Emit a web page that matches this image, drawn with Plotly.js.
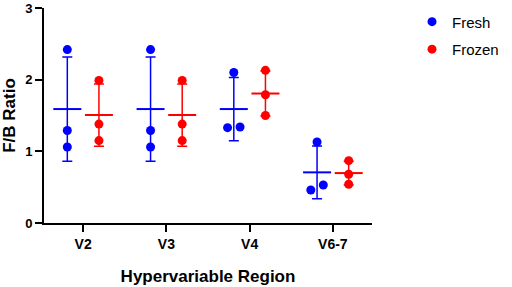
<!DOCTYPE html>
<html>
<head>
<meta charset="utf-8">
<script src="https://cdn.plot.ly/plotly-3.0.1.min.js"></script>
<style>html,body{margin:0;padding:0;background:#fff;}#chart{width:512px;height:287px;}</style>
</head>
<body>
<div id="chart"></div>
<script>
// ---- data ----
const categories = ['V2', 'V3', 'V4', 'V6-7'];
const seriesNames = ['Fresh', 'Frozen'];
const freshValues = [
  [2.42, 1.29, 1.06],
  [2.42, 1.29, 1.06],
  [2.10, 1.33, 1.34],
  [1.13, 0.46, 0.53]
];
const frozenValues = [
  [1.99, 1.38, 1.15],
  [1.99, 1.38, 1.15],
  [2.13, 1.79, 1.50],
  [0.87, 0.68, 0.54]
];
const yTicks = [0, 1, 2, 3];

// ---- styles ----
const colors = ['#0000FF', '#FF0000'];
const groupOffset = [-0.19, 0.19];
const jitter = 0.075;
const FONT = 'Liberation Sans, Arial, sans-serif';

function mean(a) { return a.reduce((s, v) => s + v, 0) / a.length; }
function sd(a) {
  const m = mean(a);
  return Math.sqrt(a.reduce((s, v) => s + (v - m) * (v - m), 0) / (a.length - 1));
}
// horizontal spread for near-overlapping points (like a scatter dot plot)
function spread(vals) {
  const off = vals.map(() => 0);
  const idx = vals.map((v, i) => i).sort((a, b) => vals[a] - vals[b]);
  for (let k = 0; k < idx.length - 1; k++) {
    const i = idx[k], j = idx[k + 1];
    if (Math.abs(vals[j] - vals[i]) < 0.1 && off[i] === 0 && off[j] === 0) {
      off[i] = -jitter; off[j] = jitter;
    }
  }
  return off;
}

const allSeries = [freshValues, frozenValues];
const traces = [];
allSeries.forEach((ser, s) => {
  const mx = [], my = [], msd = [];
  ser.forEach((vals, c) => {
    mx.push(c + groupOffset[s]); my.push(mean(vals)); msd.push(sd(vals));
  });
  traces.push({
    type: 'scatter', mode: 'markers', x: mx, y: my,
    showlegend: false, hoverinfo: 'skip', legendgroup: seriesNames[s],
    marker: { symbol: 'line-ew', size: 20, color: colors[s], line: { color: colors[s], width: 2 } },
    error_y: { type: 'data', array: msd, visible: true, width: 5, thickness: 1.5, color: colors[s] }
  });
});
allSeries.forEach((ser, s) => {
  const px = [], py = [];
  ser.forEach((vals, c) => {
    const off = spread(vals);
    vals.forEach((v, i) => { px.push(c + groupOffset[s] + off[i]); py.push(v); });
  });
  traces.push({
    type: 'scatter', mode: 'markers', x: px, y: py, name: seriesNames[s],
    legendgroup: seriesNames[s],
    marker: { size: 9, color: colors[s] }
  });
});

const layout = {
  width: 512, height: 287,
  margin: { l: 44, r: 140, t: 8, b: 64, autoexpand: false },
  paper_bgcolor: '#fff', plot_bgcolor: '#fff',
  font: { family: FONT, color: '#000' },
  showlegend: true,
  legend: {
    x: 1.122, xanchor: 'left', y: 1.012, yanchor: 'top',
    font: { family: FONT, size: 15, color: '#000' },
    tracegroupgap: 5, bgcolor: 'rgba(0,0,0,0)'
  },
  xaxis: {
    range: [-0.47, 3.47], tickmode: 'array',
    tickvals: categories.map((c, i) => i), ticktext: categories,
    showgrid: false, zeroline: false, showline: true, linecolor: '#000', linewidth: 2,
    ticks: 'outside', ticklen: 7, tickwidth: 2, tickcolor: '#000',
    tickfont: { family: FONT, size: 14, weight: 700, color: '#000' },
    title: { text: 'Hypervariable Region', font: { family: FONT, size: 17, weight: 700, color: '#000' }, standoff: 19 },
    automargin: false,
    fixedrange: true
  },
  yaxis: {
    range: [0, 3], tickmode: 'array', tickvals: yTicks,
    showgrid: false, zeroline: false, showline: true, linecolor: '#000', linewidth: 2,
    ticks: 'outside', ticklen: 7, tickwidth: 2, tickcolor: '#000',
    tickfont: { family: FONT, size: 13, weight: 700, color: '#000' },
    title: { text: 'F/B Ratio', font: { family: FONT, size: 17, weight: 700, color: '#000' }, standoff: 6 },
    automargin: false,
    fixedrange: true
  }
};

Plotly.newPlot('chart', traces, layout, { staticPlot: true, displayModeBar: false });
</script>
</body>
</html>
